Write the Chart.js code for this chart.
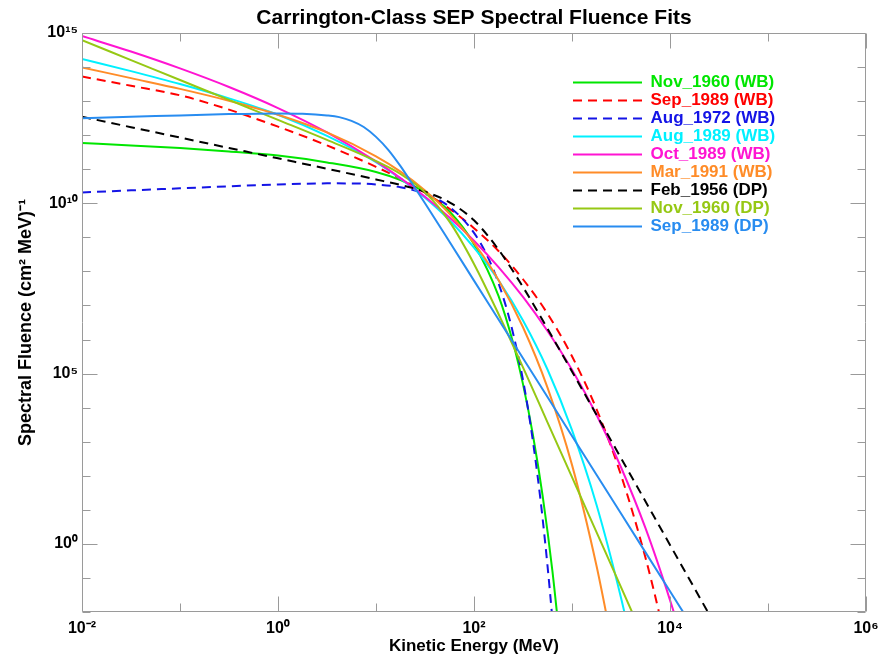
<!DOCTYPE html>
<html>
<head>
<meta charset="utf-8">
<script src="https://cdn.jsdelivr.net/npm/chart.js@4.4.1/dist/chart.umd.min.js"></script>
<style>
html,body{margin:0;padding:0;background:#fff;}
#wrap{width:891px;height:657px;}
</style>
</head>
<body>
<div id="wrap"><canvas id="c" width="891" height="657"></canvas></div>
<script>
// ---- values, as log10 of energy (MeV) and log10 of fluence ((cm^2 MeV)^-1) ----
const seriesLabels = ['Nov_1960 (WB)','Sep_1989 (WB)','Aug_1972 (WB)','Aug_1989 (WB)','Oct_1989 (WB)','Mar_1991 (WB)','Feb_1956 (DP)','Nov_1960 (DP)','Sep_1989 (DP)'];

const nov1960WB_log10E = [-2,-1.5,-1,-0.5,0,0.5,1,1.25,1.5,1.75,2,2.25,2.4,2.5,2.6,2.7,2.8,2.9];
const nov1960WB_log10F = [11.77,11.70,11.62,11.52,11.40,11.20,10.92,10.68,10.32,9.76,8.8,7.28,5.89,4.69,3.22,1.42,-0.79,-3.52];

const sep1989WB_log10E = [-2,-1.5,-1,-0.5,0,0.5,1,1.25,1.5,1.75,2,2.25,2.5,2.75,3,3.25,3.5,3.75,3.9,4];
const sep1989WB_log10F = [13.72,13.45,13.17,12.75,12.25,11.70,11.07,10.72,10.31,9.84,9.27,8.60,7.77,6.76,5.51,3.96,2.02,-0.41,-2.16,-3.47];

const aug1972WB_log10E = [-2,-1.5,-1,-0.5,0,0.5,0.75,1,1.25,1.5,1.75,2,2.125,2.25,2.375,2.5,2.6,2.7,2.8,2.9];
const aug1972WB_log10F = [10.32,10.38,10.44,10.50,10.55,10.585,10.584,10.554,10.47,10.28,9.895,9.133,8.515,7.655,6.46,4.81,3.04,0.749,-2.22,-6.06];

const aug1989WB_log10E = [-2,-1.5,-1,-0.5,0,0.5,1,1.25,1.5,1.75,2,2.25,2.5,2.75,3,3.25,3.5,3.6];
const aug1989WB_log10F = [14.24,13.88,13.50,13.08,12.60,11.98,11.21,10.72,10.16,9.50,8.70,7.74,6.56,5.12,3.34,1.15,-1.58,-2.84];

const oct1989WB_log10E = [-2,-1.5,-1,-0.5,0,0.5,1,1.25,1.5,1.75,2,2.25,2.5,2.75,3,3.25,3.5,3.75,4,4.25];
const oct1989WB_log10F = [14.91,14.455,13.96,13.414,12.796,12.081,11.231,10.739,10.194,9.584,8.90,8.126,7.25,6.25,5.11,3.79,2.25,0.46,-1.65,-4.0];

const mar1991WB_log10E = [-2,-1.5,-1,-0.5,0,0.5,1,1.25,1.5,1.75,2,2.25,2.5,2.75,3,3.25,3.4];
const mar1991WB_log10F = [13.99,13.675,13.36,13.01,12.60,12.08,11.38,10.93,10.375,9.69,8.83,7.75,6.36,4.59,2.32,-0.64,-2.78];

const feb1956DP_log10E = [-2,-1.5,-1,-0.5,0,0.5,1,1.25,1.5,1.75,2,2.25,2.5,2.75,3,3.5,4,4.5];
const feb1956DP_log10F = [12.54,12.235,11.93,11.625,11.32,11.015,10.70,10.54,10.34,10.03,9.5,8.64,7.54,6.32,5.06,2.52,-0.03,-2.58];

const nov1960DP_log10E = [-2,-1.5,-1,-0.5,0,0.5,1,1.25,1.5,1.75,2,2.25,2.5,2.75,3,3.25,3.5,3.75];
const nov1960DP_log10F = [14.79,14.205,13.62,13.035,12.45,11.86,11.24,10.86,10.32,9.46,8.22,6.75,5.18,3.57,1.96,0.345,-1.27,-2.89];

const sep1989DP_log10E = [-2,-1.5,-1,-0.5,0,0.25,0.5,0.625,0.75,0.875,1,1.125,1.25,1.375,1.5,1.75,2,2.5,3,3.5,4,4.5];
const sep1989DP_log10F = [12.50,12.54,12.58,12.62,12.64,12.63,12.58,12.53,12.42,12.24,11.95,11.57,11.09,10.55,10.0,8.87,7.73,5.45,3.17,0.89,-1.39,-3.67];

const seriesColors = ['rgb(0,230,0)','rgb(255,0,0)','rgb(20,20,230)','rgb(0,240,255)','rgb(255,20,210)','rgb(255,140,40)','rgb(0,0,0)','rgb(150,200,20)','rgb(40,140,240)'];
const seriesDashed = [false, true, true, false, false, false, true, false, false];

const xTickExponents = [-2,-1,0,1,2,3,4,5,6];
const xLabelExponents = [-2,0,2,4,6];
const yTickExponents = [-2,-1,0,1,2,3,4,5,6,7,8,9,10,11,12,13,14,15];
const yLabelExponents = [0,5,10,15];

// ---- build chart ----
const energyArrays = [nov1960WB_log10E, sep1989WB_log10E, aug1972WB_log10E, aug1989WB_log10E, oct1989WB_log10E, mar1991WB_log10E, feb1956DP_log10E, nov1960DP_log10E, sep1989DP_log10E];
const fluenceArrays = [nov1960WB_log10F, sep1989WB_log10F, aug1972WB_log10F, aug1989WB_log10F, oct1989WB_log10F, mar1991WB_log10F, feb1956DP_log10F, nov1960DP_log10F, sep1989DP_log10F];

const SUP = {'0':'\u2070','1':'\u00B9','2':'\u00B2','3':'\u00B3','4':'\u2074','5':'\u2075','6':'\u2076','7':'\u2077','8':'\u2078','9':'\u2079','-':'\u207B'};
function pow10Label(e){ return '10' + String(e).split('').map(c => SUP[c]).join(''); }

const FONT = "'Liberation Sans', Arial, Helvetica, sans-serif";
Chart.defaults.font.family = FONT;
Chart.defaults.color = '#000';

const datasets = seriesLabels.map((label, i) => ({
  label: label,
  data: energyArrays[i].map((le, j) => ({x: Math.pow(10, le), y: Math.pow(10, fluenceArrays[i][j])})),
  borderColor: seriesColors[i],
  backgroundColor: seriesColors[i],
  borderWidth: 2,
  borderDash: seriesDashed[i] ? [9, 6] : [],
  pointRadius: 0,
  fill: false,
  cubicInterpolationMode: 'monotone',
  order: seriesLabels.length - i
}));

const framePlugin = {
  id: 'frame',
  afterDatasetsDraw(chart) {
    const {ctx, chartArea: a, scales} = chart;
    const xs = scales.x, ys = scales.y;
    const L = Math.round(a.left) + 0.5, R = Math.round(a.right) - 0.5;
    const T = Math.round(a.top) + 0.5, B = Math.round(a.bottom) - 0.5;
    ctx.save();
    ctx.strokeStyle = '#9a9a9a';
    ctx.lineWidth = 1;
    ctx.setLineDash([]);
    ctx.beginPath();
    ctx.rect(L, T, R - L, B - T);
    xTickExponents.forEach(e => {
      const px = Math.round(xs.getPixelForValue(Math.pow(10, e))) + 0.5;
      const len = xLabelExponents.includes(e) ? 15 : 8;
      ctx.moveTo(px, B); ctx.lineTo(px, B - len);
      ctx.moveTo(px, T); ctx.lineTo(px, T + len);
    });
    yTickExponents.forEach(e => {
      const py = Math.round(ys.getPixelForValue(Math.pow(10, e))) + 0.5;
      const len = yLabelExponents.includes(e) ? 15 : 8;
      ctx.moveTo(L, py); ctx.lineTo(L + len, py);
      ctx.moveTo(R, py); ctx.lineTo(R - len, py);
    });
    ctx.stroke();
    ctx.restore();
  }
};

const legendPlacer = {
  id: 'legendPlacer',
  beforeDraw(chart) {
    const lg = chart.legend;
    const a = chart.chartArea;
    if (!lg) return;
    const w = lg.width, h = lg.height;
    lg.left = a.left + 490;
    lg.top = a.top + 40;
    lg.right = lg.left + w;
    lg.bottom = lg.top + h;
  }
};

new Chart(document.getElementById('c'), {
  type: 'line',
  data: { datasets: datasets },
  options: {
    responsive: false,
    animation: false,
    layout: { padding: { left: 0, top: 0, right: 25, bottom: 0 } },
    plugins: {
      title: {
        display: true,
        text: 'Carrington-Class SEP Spectral Fluence Fits',
        fullSize: false,
        color: '#000',
        font: { size: 21, weight: 'bold', family: FONT },
        padding: { top: 6, bottom: 1.8 }
      },
      legend: {
        display: true,
        position: 'chartArea',
        align: 'start',
        padding: 10,
        labels: {
          usePointStyle: true,
          pointStyle: 'line',
          pointStyleWidth: 69,
          padding: 1,
          font: { size: 17, weight: 'bold', family: FONT },
          generateLabels(chart) {
            return chart.data.datasets.map((ds, i) => ({
              text: ds.label,
              fillStyle: ds.borderColor,
              strokeStyle: ds.borderColor,
              fontColor: ds.borderColor,
              lineWidth: 2,
              lineDash: ds.borderDash,
              pointStyle: 'line',
              hidden: false,
              datasetIndex: i
            }));
          }
        }
      },
      tooltip: { enabled: false }
    },
    scales: {
      x: {
        type: 'logarithmic',
        position: 'bottom',
        min: 1e-2,
        max: 1e6,
        grid: { display: false, drawTicks: false },
        border: { display: false },
        afterBuildTicks(s) { s.ticks = xTickExponents.map(e => ({ value: Math.pow(10, e) })); },
        afterFit(s) { s.height = 45; s.paddingLeft = 0; s.paddingRight = 0; },
        ticks: {
          autoSkip: false,
          maxRotation: 0,
          padding: 7,
          color: '#000',
          font: { size: 16, weight: 'bold', family: FONT },
          callback(v) {
            const e = Math.round(Math.log10(v));
            return xLabelExponents.includes(e) ? pow10Label(e) : '';
          }
        },
        title: {
          display: true,
          text: 'Kinetic Energy (MeV)',
          color: '#000',
          font: { size: 17, weight: 'bold', family: FONT },
          padding: { top: 0, bottom: 0 }
        }
      },
      y: {
        type: 'logarithmic',
        position: 'left',
        min: 1e-2,
        max: 1e15,
        grid: { display: false, drawTicks: false },
        border: { display: false },
        afterBuildTicks(s) { s.ticks = yTickExponents.map(e => ({ value: Math.pow(10, e) })); },
        afterFit(s) { s.width = 82; s.paddingTop = 0; s.paddingBottom = 0; },
        ticks: {
          autoSkip: false,
          padding: 4,
          color: '#000',
          font: { size: 16, weight: 'bold', family: FONT },
          callback(v) {
            const e = Math.round(Math.log10(v));
            return yLabelExponents.includes(e) ? pow10Label(e) : '';
          }
        },
        title: {
          display: true,
          text: 'Spectral Fluence (cm\u00B2 MeV)\u207B\u00B9',
          color: '#000',
          font: { size: 18, weight: 'bold', family: FONT },
          padding: { top: 15, bottom: 0 }
        }
      }
    }
  },
  plugins: [framePlugin, legendPlacer]
});
</script>
</body>
</html>
